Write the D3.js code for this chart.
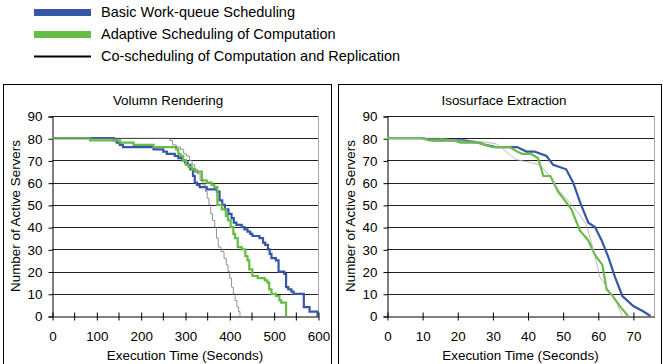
<!DOCTYPE html>
<html>
<head>
<meta charset="utf-8">
<script src="https://cdn.jsdelivr.net/npm/d3@7"></script>
<style>
  body { margin: 0; background: #fff; }
  svg { font-family: "Liberation Sans", Arial, sans-serif; }
</style>
</head>
<body>
<svg id="chart" width="663" height="364"></svg>
<script>
//series names and colours
var seriesNames = ['Basic Work-queue Scheduling',
                   'Adaptive Scheduling of Computation',
                   'Co-scheduling of Computation and Replication'];

//volume rendering (seconds, active servers) - step data
var volBasic = [[0,80],[139,79],[146,78],[153,77],[160,76],[229,75],[251,74],[259,73],[277,72],[285,71],
  [294,70],[300,69],[306,68],[312,66],[318,63],[322,60],[327,59],[333,58],[349,57],[372,56],[378,52],
  [384,50],[390,48],[398,46],[405,44],[410,42],[416,41],[428,40],[434,39],[441,38],[447,37],[452,36],
  [468,35],[476,33],[481,32],[487,30],[491,28],[495,26],[505,25],[511,20],[524,19],[528,13],[533,12],
  [540,11],[545,10],[568,4],[581,2],[599,0],[600,0]];
var volAdaptive = [[0,80],[86,79],[154,78],[184,77],[229,76],[280,75],[285,73],[290,72],[296,70],
  [302,68],[308,67],[316,66],[322,65],[338,61],[349,60],[360,59],[366,58],[373,50],[383,48],[392,45],
  [397,43],[403,40],[409,37],[413,35],[419,31],[428,30],[436,27],[441,25],[445,21],[452,18],[464,17],
  [480,16],[486,15],[490,12],[495,10],[505,9],[513,7],[517,6],[528,0]];
var volCosched = [[0,80],[266,79],[272,77],[280,76],[290,75],[297,73],[303,72],[310,70],[316,68],
  [322,66],[328,64],[334,61],[340,59],[346,56],[350,53],[354,50],[358,46],[362,43],[367,40],[371,35],
  [375,31],[381,29],[388,26],[393,23],[397,20],[401,17],[405,13],[409,10],[413,7],[417,4],[421,2],[424,0]];

//isosurface extraction
var isoBasic = [[0,80],[10,80],[13,79],[22,79],[26,78],[28,77],[31,76],[37,76],[39.7,74],[42,74],
  [45.4,72],[47.3,68],[51,66],[53,60],[55,51],[57.3,42],[59.2,40],[61.1,34],[63,26.5],[64.9,17.5],
  [67,9],[70.1,4.5],[73,2],[75,0]];
var isoAdaptive = [[0,80],[10,80],[12,79],[19,79],[21,78],[26,78],[28,77],[30,76],[35,76],[37,74],
  [38.5,73],[41,73],[43,71],[44.5,63],[46.5,63],[48.7,56],[50.6,52],[52.5,48],[54.9,38.5],[57.3,34],
  [59.2,27.5],[61.3,23],[62.5,12],[64,9.5],[66.5,4],[68.6,0]];
var isoCosched = [[0,80],[15,80],[20,79],[27,78.5],[31,77.5],[34,74],[36.5,70.5],[39.5,69.5],
  [43.5,68],[46,63.5],[48.7,57],[52,51],[54.9,45.5],[56.8,41],[58.2,33],[59.5,25],[60.6,17.5],
  [62.5,13],[65.4,5.7],[67,0]];

var yTicks = [0,10,20,30,40,50,60,70,80,90];
var volTicks = [0,100,200,300,400,500,600];
var isoTicks = [0,10,20,30,40,50,60,70];

var blue = '#3656a8', green = '#66bd45';
var fs = 13.4;

var svg = d3.select('#chart');

//legend
var legend = svg.append('g').attr('class', 'legend');
var legendY = [12.5, 34.5, 56.5];
seriesNames.forEach(function(name, i) {
    if (i < 2) {
        legend.append('rect')
            .attr('x', 34).attr('y', legendY[i] - 3.5)
            .attr('width', 57).attr('height', 7)
            .attr('fill', i == 0 ? blue : green);
    } else {
        legend.append('rect')
            .attr('x', 34).attr('y', legendY[i] - 1)
            .attr('width', 57).attr('height', 2)
            .attr('fill', '#000');
    }
    legend.append('text')
        .attr('x', 101).attr('y', legendY[i] - 1)
        .attr('dy', '0.35em')
        .attr('font-size', 14.5)
        .text(name);
});

//one panel
function panel(opt) {
    var g = svg.append('g').attr('class', 'panel');

    //frame
    g.append('rect')
        .attr('x', opt.box[0] + 0.5).attr('y', 84.5)
        .attr('width', opt.box[1] - opt.box[0]).attr('height', 300)
        .attr('fill', 'none').attr('stroke', '#000');

    var x = d3.scaleLinear().domain(opt.xDomain).range(opt.xRange);
    var y = d3.scaleLinear().domain([0, 90]).range([316, 116]);

    //gridlines
    g.append('g').selectAll('line')
        .data(yTicks.filter(d => d > 0))
        .enter().append('line')
            .attr('x1', opt.xRange[0]).attr('x2', opt.xRange[1])
            .attr('y1', d => Math.round(y(d)) + 0.5).attr('y2', d => Math.round(y(d)) + 0.5)
            .attr('stroke', '#222').attr('stroke-width', 1);

    //right border of plot area
    g.append('line')
        .attr('x1', opt.xRange[1] + 0.5).attr('x2', opt.xRange[1] + 0.5)
        .attr('y1', y(90)).attr('y2', y(0))
        .attr('stroke', '#aaa');

    //y axis
    var yAxis = g.append('g')
        .attr('transform', 'translate(' + (opt.xRange[0] + 0.5) + ',0.5)')
        .call(d3.axisLeft(y).tickValues(yTicks).tickSize(4).tickPadding(6));
    yAxis.selectAll('text').attr('font-size', fs).attr('fill', '#000');
    yAxis.select('.domain').attr('stroke', '#000');
    yAxis.selectAll('line').attr('stroke', '#000');

    //x axis with crossing ticks
    var xAxis = g.append('g')
        .attr('transform', 'translate(0.5,' + (Math.round(y(0)) + 0.5) + ')')
        .call(d3.axisBottom(x).tickValues(opt.ticks).tickSize(4).tickPadding(11).tickSizeOuter(0)
              .tickFormat(d3.format('d')));
    xAxis.selectAll('text').attr('font-size', fs).attr('fill', '#000');
    xAxis.select('.domain').attr('stroke', '#000');
    xAxis.selectAll('.tick line').attr('y1', -4).attr('stroke', '#000');
    //minor crossing ticks
    xAxis.selectAll('.minor')
        .data(opt.minor)
        .enter().append('line')
            .attr('class', 'minor')
            .attr('x1', d => x(d)).attr('x2', d => x(d))
            .attr('y1', -4).attr('y2', 4)
            .attr('stroke', '#000');

    //titles
    g.append('text')
        .attr('x', opt.titleX).attr('y', 105)
        .attr('text-anchor', 'middle').attr('font-size', fs)
        .text(opt.title);
    g.append('text')
        .attr('x', (opt.xRange[0] + opt.xRange[1]) / 2).attr('y', 359.5)
        .attr('text-anchor', 'middle').attr('font-size', fs)
        .text('Execution Time (Seconds)');
    g.append('text')
        .attr('transform', 'translate(' + opt.yLabelX + ',216) rotate(-90)')
        .attr('text-anchor', 'middle').attr('font-size', fs)
        .text('Number of Active Servers');

    //lines, drawn in series order
    var line = d3.line()
        .x(d => x(d[0])).y(d => y(d[1]))
        .curve(opt.curve);

    g.append('path').datum(opt.series[0])
        .attr('d', line).attr('fill', 'none')
        .attr('stroke', blue).attr('stroke-width', 2.2);
    g.append('path').datum(opt.series[1])
        .attr('d', line).attr('fill', 'none')
        .attr('stroke', green).attr('stroke-width', 2.2);
    g.append('path').datum(opt.series[2])
        .attr('d', line).attr('fill', 'none')
        .attr('stroke', opt.thinColor).attr('stroke-width', 0.8);
}

panel({
    box: [3, 331],
    xDomain: [0, 600], xRange: [52, 318],
    ticks: volTicks, minor: [50,150,250,350,450,550],
    title: 'Volumn Rendering', titleX: 168, yLabelX: 20,
    series: [volBasic, volAdaptive, volCosched],
    curve: d3.curveStepAfter, thinColor: '#777'
});
panel({
    box: [338, 661],
    xDomain: [0, 76], xRange: [387, 654],
    ticks: isoTicks, minor: [],
    title: 'Isosurface Extraction', titleX: 504, yLabelX: 355,
    series: [isoBasic, isoAdaptive, isoCosched],
    curve: d3.curveLinear, thinColor: '#aaa'
});
</script>
</body>
</html>
